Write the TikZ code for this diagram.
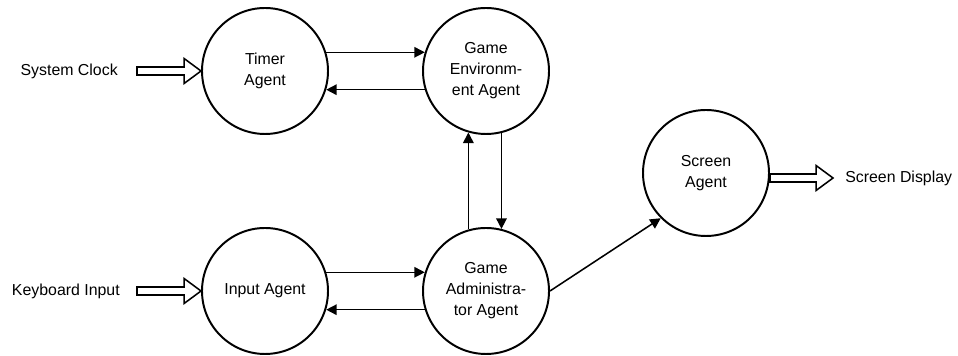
\documentclass[tikz,border=0pt]{standalone}
\usepackage{fontspec}
\setmainfont{Liberation Sans}
\usetikzlibrary{arrows.meta,calc}

\tikzset{
  agent/.style={circle, draw, line width=1.4pt, minimum size=3.15cm, inner sep=0pt, align=center},
  label/.style={inner sep=0pt},
  flow/.style={line width=1.1pt, -{Triangle[length=7.5pt,width=7.5pt]}},
  hollow/.style={line width=1.1pt, fill=white},
}
% 白抜き矢印（水平）: #1 始点, #2 先端
\newcommand{\hollowarrow}[2]{%
  \draw[hollow] ($(#1)+(0,0.1)$) -- ($(#2)+(-0.42,0.1)$) -- ($(#2)+(-0.42,0.31)$)
    -- (#2) -- ($(#2)+(-0.42,-0.31)$) -- ($(#2)+(-0.42,-0.1)$) -- ($(#1)+(0,-0.1)$) -- cycle;}

\begin{document}
\begin{tikzpicture}[font=\fontsize{11.3}{15}\selectfont]
        \useasboundingbox (0,0) rectangle (23.95,8.9);
        % エージェントの描画
        \node[agent] (timer)  at (6.625,7.125)  {Timer\\Agent};
        \node[agent] (env)    at (12.15,7.125)  {Game\\Environm-\\ent Agent};
        \node[agent] (input)  at (6.625,1.625)  {Input Agent};
        \node[agent] (admin)  at (12.15,1.625)  {Game\\Administra-\\tor Agent};
        \node[agent] (screen) at (17.65,4.575)  {Screen\\Agent};

        % 入出力ラベル
        \node[label, anchor=east] (clock) at (2.95,7.125) {System Clock};
        \node[label, anchor=east] (kbd)   at (3.0,1.625)  {Keyboard Input};
        \node[label, anchor=west] (disp)  at (21.125,4.45) {Screen Display};

        % 白抜き矢印の描画
        \coordinate (clock-s) at ([xshift=0.475cm]clock.east);
        \coordinate (kbd-s)   at ([xshift=0.425cm]kbd.east);
        \coordinate (disp-e)  at ([xshift=-0.3cm]disp.west);
        \coordinate (screen-s) at (screen.east |- disp-e);
        \hollowarrow{clock-s}{timer.west}
        \hollowarrow{kbd-s}{input.west}
        \hollowarrow{screen-s}{disp-e}

        % エージェント間の矢印
        \foreach \a/\b in {timer/env, input/admin}
            \draw[flow] (\a.17) -- (\b.163);
        \foreach \a/\b in {env/timer, admin/input}
            \draw[flow] (\a.197) -- (\b.-17);
        \draw[flow] (admin.106) -- (env.254);
        \draw[flow] (env.284) -- (admin.76);
        \draw[flow] (admin.east) -- (screen.225);

    \end{tikzpicture}
\end{document}
